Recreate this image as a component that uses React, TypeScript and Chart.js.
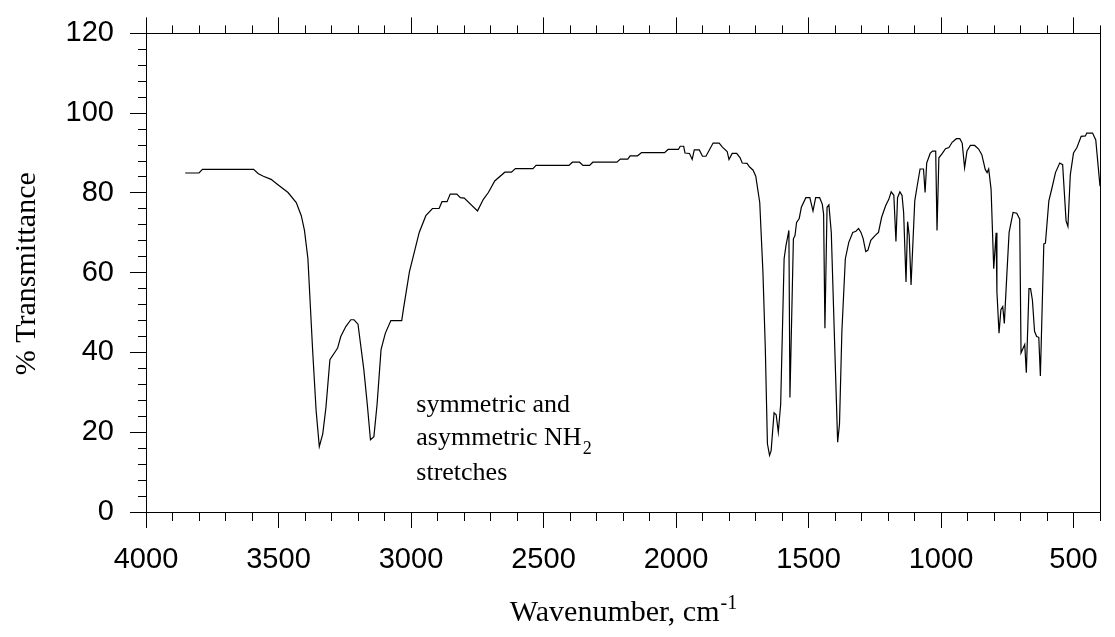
import React, { useEffect, useRef } from 'react';
import { Chart, registerables } from 'chart.js';

Chart.register(...registerables);

// Wavenumber (cm-1), descending
const wavenumbers = [
  3852, 3800, 3787, 3594, 3576, 3557, 3528, 3507, 3464, 3433,
  3414, 3402, 3389, 3371, 3358, 3346, 3333, 3321, 3306, 3283,
  3277, 3265, 3246, 3227, 3215, 3200, 3178, 3165, 3153, 3140,
  3128, 3113, 3097, 3076, 3035, 3028, 3006, 2969, 2944, 2919,
  2894, 2883, 2864, 2852, 2827, 2814, 2799, 2749, 2727, 2708,
  2684, 2646, 2621, 2606, 2540, 2528, 2404, 2391, 2364, 2351,
  2326, 2314, 2223, 2210, 2182, 2173, 2145, 2130, 2043, 2030,
  1991, 1984, 1971, 1966, 1949, 1939, 1931, 1912, 1900, 1887,
  1860, 1837, 1825, 1807, 1800, 1788, 1771, 1758, 1750, 1732,
  1722, 1709, 1699, 1684, 1672, 1663, 1655, 1647, 1641, 1630,
  1622, 1614, 1605, 1592, 1585, 1574, 1570, 1557, 1551, 1545,
  1535, 1527, 1510, 1495, 1483, 1473, 1458, 1448, 1443, 1438,
  1430, 1423, 1414, 1402, 1390, 1383, 1374, 1361, 1348, 1333,
  1321, 1311, 1302, 1294, 1284, 1276, 1265, 1249, 1236, 1224,
  1209, 1197, 1188, 1178, 1170, 1164, 1155, 1147, 1141, 1132,
  1126, 1120, 1113, 1099, 1091, 1079, 1066, 1060, 1054, 1041,
  1032, 1020, 1015, 1008, 995, 983, 970, 958, 942, 929,
  920, 911, 902, 889, 873, 858, 846, 833, 826, 820,
  811, 801, 792, 789, 781, 774, 767, 761, 751, 743,
  728, 714, 703, 698, 684, 678, 668, 662, 655, 647,
  639, 631, 625, 612, 606, 593, 581, 568, 552, 541,
  528, 521, 512, 500, 487, 471, 455, 450, 428, 416,
  400,
];

// % Transmittance
const transmittance = [
  85.0, 85.0, 85.9, 85.9, 84.8, 84.2, 83.4, 82.3, 80.1, 77.6,
  74.3, 70.6, 63.5, 40.3, 25.4, 16.4, 19.6, 26.2, 38.2, 40.5,
  41.1, 44.0, 46.5, 48.2, 48.2, 47.1, 35.7, 27.0, 18.1, 18.9,
  27.0, 40.7, 44.8, 48.0, 48.0, 51.1, 60.2, 70.1, 74.3, 76.1,
  76.1, 77.8, 77.8, 79.7, 79.7, 78.8, 78.7, 75.5, 78.4, 80.1,
  83.0, 85.2, 85.2, 86.1, 86.1, 86.9, 86.9, 87.7, 87.7, 86.9,
  86.9, 87.7, 87.7, 88.5, 88.5, 89.3, 89.3, 90.1, 90.1, 90.9,
  90.9, 91.7, 91.7, 90.0, 89.9, 88.4, 90.8, 90.8, 89.2, 89.2,
  92.5, 92.5, 91.5, 90.4, 88.4, 89.9, 89.9, 88.8, 87.5, 87.4,
  86.5, 85.7, 84.2, 77.6, 60.2, 41.1, 17.1, 14.2, 15.4, 24.9,
  24.4, 20.0, 27.0, 63.5, 66.8, 70.6, 28.7, 68.5, 69.3, 72.6,
  73.6, 76.4, 78.8, 78.8, 75.5, 78.8, 78.8, 77.2, 74.7, 46.1,
  76.4, 77.0, 70.1, 43.6, 17.5, 22.1, 45.3, 63.5, 67.6, 70.1,
  70.4, 71.1, 70.1, 68.6, 65.3, 65.6, 68.1, 69.3, 70.1, 73.9,
  76.8, 78.4, 80.3, 79.4, 67.8, 78.8, 80.3, 79.4, 75.1, 57.7,
  72.8, 69.3, 56.9, 78.0, 81.3, 86.0, 86.0, 80.1, 87.5, 89.9,
  90.5, 90.5, 70.6, 88.8, 89.9, 91.1, 91.4, 92.7, 93.6, 93.6,
  92.5, 86.3, 90.5, 91.9, 91.9, 91.0, 89.6, 85.9, 85.1, 86.0,
  80.9, 61.0, 70.0, 55.2, 44.8, 50.7, 51.5, 47.3, 60.2, 70.1,
  75.1, 74.9, 73.4, 39.9, 42.0, 34.9, 56.0, 56.0, 53.1, 45.3,
  44.0, 43.8, 34.1, 67.2, 67.4, 78.0, 81.3, 85.1, 87.5, 87.1,
  73.0, 71.6, 84.6, 90.0, 91.4, 94.2, 94.3, 95.0, 95.0, 93.3,
  81.7,
];

const xMajorTicks = [4000, 3500, 3000, 2500, 2000, 1500, 1000, 500];
const yMajorTicks = [0, 20, 40, 60, 80, 100, 120];
const xRange = [400, 4000];
const yRange = [0, 120];
const xMinorStep = 100;
const yMinorStep = 4;

const xTitle = 'Wavenumber, cm';
const xTitleSup = '-1';
const yTitle = '% Transmittance';
const noteLines = ['symmetric and', 'asymmetric NH', 'stretches'];
const noteSub = '2';
const noteAnchor = [2980, 25.1];

const SANS = '"Liberation Sans", Arial, Helvetica, sans-serif';
const SERIF = '"Liberation Serif", "Times New Roman", Times, serif';

export default function App() {
  const ref = useRef<HTMLCanvasElement>(null);

  useEffect(() => {
    const canvas = ref.current;
    if (!canvas) return;

    const points = wavenumbers.map((w, i) => ({ x: w, y: transmittance[i] }));
    const isMajorX = (v: number) => xMajorTicks.includes(Math.round(v));
    const isMajorY = (v: number) => yMajorTicks.includes(Math.round(v));

    const textPlugin = {
      id: 'texts',
      afterDraw(chart: any) {
        const ctx = chart.ctx as CanvasRenderingContext2D;
        const ca = chart.chartArea;
        const xs = chart.scales.x;
        const ys = chart.scales.y;
        ctx.save();
        ctx.fillStyle = '#000';

        // y title
        ctx.save();
        ctx.font = `30px ${SERIF}`;
        ctx.translate(35, (ca.top + ca.bottom) / 2 + 1);
        ctx.rotate(-Math.PI / 2);
        ctx.textAlign = 'center';
        ctx.textBaseline = 'alphabetic';
        ctx.fillText(yTitle, 0, 0);
        ctx.restore();

        // x title with superscript
        ctx.textAlign = 'left';
        ctx.textBaseline = 'alphabetic';
        ctx.font = `30px ${SERIF}`;
        const w1 = ctx.measureText(xTitle).width;
        ctx.font = `20px ${SERIF}`;
        const w2 = ctx.measureText(xTitleSup).width;
        const sx = (ca.left + ca.right) / 2 - (w1 + w2) / 2;
        const by = 621;
        ctx.font = `30px ${SERIF}`;
        ctx.fillText(xTitle, sx, by);
        ctx.font = `20px ${SERIF}`;
        ctx.fillText(xTitleSup, sx + w1 + 1, by - 12);

        // annotation
        const ax = xs.getPixelForValue(noteAnchor[0]);
        const ay = ys.getPixelForValue(noteAnchor[1]);
        ctx.font = `26px ${SERIF}`;
        ctx.fillText(noteLines[0], ax, ay);
        ctx.fillText(noteLines[1], ax, ay + 33);
        const wn = ctx.measureText(noteLines[1]).width;
        ctx.font = `18px ${SERIF}`;
        ctx.fillText(noteSub, ax + wn + 1, ay + 33 + 9);
        ctx.font = `26px ${SERIF}`;
        ctx.fillText(noteLines[2], ax, ay + 68);
        ctx.restore();
      },
    };

    const tickFont = { family: SANS, size: 29 };

    const chart = new Chart(canvas, {
      type: 'line',
      data: {
        datasets: [
          {
            data: points,
            borderColor: '#000',
            borderWidth: 1.2,
            pointRadius: 0,
            fill: false,
            tension: 0,
          },
        ],
      },
      options: {
        animation: false,
        responsive: false,
        devicePixelRatio: 1,
        layout: { padding: 0 },
        plugins: { legend: { display: false }, tooltip: { enabled: false } },
        scales: {
          x: {
            type: 'linear',
            position: 'bottom',
            min: xRange[0],
            max: xRange[1],
            reverse: true,
            ticks: {
              stepSize: xMinorStep,
              autoSkip: false,
              maxRotation: 0,
              padding: 15,
              color: '#000',
              font: tickFont,
              callback: (v: any) => (isMajorX(Number(v)) ? String(v) : ''),
            },
            grid: {
              drawOnChartArea: false,
              tickLength: 16,
              tickColor: '#000',
              tickWidth: 1,
              tickBorderDash: (c: any) => (c.tick && !isMajorX(c.tick.value) ? [8, 100] : []),
            },
            border: { color: '#000', width: 1 },
            afterFit: (s: any) => {
              s.height = 125;
            },
          },
          x2: {
            type: 'linear',
            position: 'top',
            min: xRange[0],
            max: xRange[1],
            reverse: true,
            ticks: { display: false, stepSize: xMinorStep, autoSkip: false },
            grid: {
              drawOnChartArea: false,
              tickLength: 16,
              tickColor: '#000',
              tickWidth: 1,
              tickBorderDash: (c: any) => (c.tick && !isMajorX(c.tick.value) ? [0, 8, 8, 100] : []),
            },
            border: { color: '#000', width: 1 },
            afterFit: (s: any) => {
              s.height = 29.5;
            },
          },
          y: {
            type: 'linear',
            position: 'left',
            min: yRange[0],
            max: yRange[1],
            ticks: {
              stepSize: yMinorStep,
              autoSkip: false,
              padding: 16,
              color: '#000',
              font: tickFont,
              callback: (v: any) => (isMajorY(Number(v)) ? String(v) : ''),
            },
            grid: {
              drawOnChartArea: false,
              tickLength: 16,
              tickColor: '#000',
              tickWidth: 1,
              tickBorderDash: (c: any) => (c.tick && !isMajorY(c.tick.value) ? [0, 8, 8, 100] : []),
            },
            border: { color: '#000', width: 1 },
            afterFit: (s: any) => {
              s.width = 146;
            },
          },
          y2: {
            type: 'linear',
            position: 'right',
            min: yRange[0],
            max: yRange[1],
            ticks: { display: false },
            grid: { drawOnChartArea: false, drawTicks: false },
            border: { color: '#000', width: 1 },
            afterFit: (s: any) => {
              s.width = 4.5;
            },
          },
        },
      } as any,
      plugins: [textPlugin],
    });

    return () => chart.destroy();
  }, []);

  return (
    <div style={{ position: 'absolute', left: 0, top: 0, width: 1115, height: 637, background: '#fff' }}>
      <canvas ref={ref} width={1115} height={637} style={{ display: 'block', width: 1115, height: 637 }} />
    </div>
  );
}
